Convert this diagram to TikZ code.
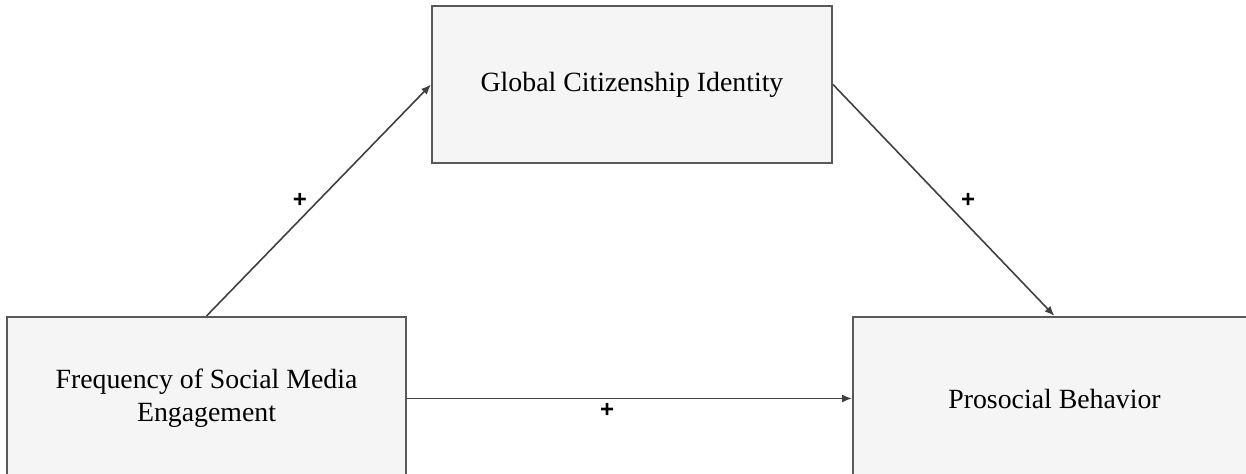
\documentclass[tikz,border=0pt]{standalone}
\usepackage{fontspec}
\setmainfont{Liberation Serif}
\newfontfamily\signfont{Liberation Sans}
\usetikzlibrary{arrows.meta,positioning,calc}
\definecolor{boxfill}{HTML}{F5F5F5}
\definecolor{boxline}{HTML}{595959}
\definecolor{arrowline}{HTML}{404040}

\begin{document}
\begin{tikzpicture}[x=0.5pt,y=-0.5pt,
    varbox/.style={draw=boxline,fill=boxfill,line width=1pt,rectangle,inner sep=0pt,
      align=center,font=\fontsize{13.9}{16.5}\selectfont},
    path/.style={draw=arrowline,line width=0.8pt,-{Latex[length=5pt,width=4pt]}},
    sign/.style={font=\signfont\bfseries\fontsize{12}{14}\selectfont,inner sep=0pt}]
    \useasboundingbox (0,0) rectangle (1246,474);

    \node (gci) at (632,84.5) [varbox,minimum width=200pt,minimum height=78.5pt,text height=10pt] {Global Citizenship Identity};
    \node (fsm) at (206.5,398.5) [varbox,minimum width=199.5pt,minimum height=81.5pt] {Frequency of Social Media\\Engagement};
    \node (pb) at (1054.5,398.5) [varbox,minimum width=201.5pt,minimum height=81.5pt] {Prosocial Behavior};

    \draw [path] (fsm.north) -- (gci.west);
    \draw [path] (gci.east) -- (pb.north);
    \draw [path] (fsm.east) -- (pb.west);

    \node (s1) at (300,200) [sign] {+};
    \node (s2) at (968,200) [sign] {+};
    \node (s3) at (607,410) [sign] {+};
\end{tikzpicture}
\end{document}
